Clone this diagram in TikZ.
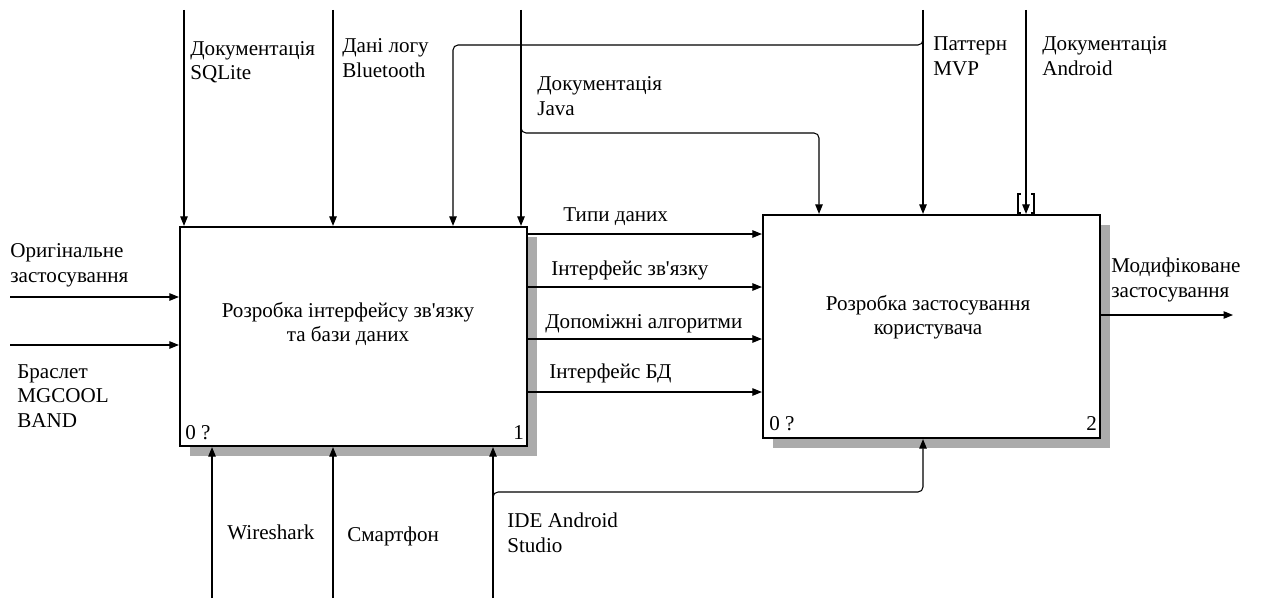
\documentclass[tikz,border=0pt]{standalone}
\usepackage{fontspec}
\setmainfont{Liberation Serif}
\usetikzlibrary{arrows.meta,shadows}

\tikzset{
  actbox/.style={draw,line width=1.3pt,fill=white,
    drop shadow={shadow xshift=0.2cm,shadow yshift=-0.2cm,fill=black!33,opacity=1}},
  flow/.style={line width=0.6pt,rounded corners=0.1cm,
    -{Triangle[length=0.19cm,width=0.15cm]}},
  lbl/.style={anchor=base west,align=left,inner sep=0pt,
    font=\fontsize{12}{13.8}\selectfont},
  title/.style={align=center,inner sep=0pt,font=\fontsize{12}{13.8}\selectfont},
}

\begin{document}
\begin{tikzpicture}[x=0.02cm,y=-0.02cm]
  \useasboundingbox (0,0) rectangle (1263,598);

  % activity boxes
  \node[actbox,minimum width=6.94cm,minimum height=4.38cm] (b1) at (353.5,336.5) {};
  \node[actbox,minimum width=6.74cm,minimum height=4.46cm] (b2) at (931.5,326.5) {};
  \node[title] (b1t) at (348,324) {Розробка інтерфейсу зв\textquotesingle язку\\та бази даних};
  \node[title] (b2t) at (928,317) {Розробка застосування\\користувача};
  \node[lbl] (b1n) at (185,439) {0 ?};
  \node[lbl] (b1i) at (513,439) {1};
  \node[lbl] (b2n) at (769,430) {0 ?};
  \node[lbl] (b2i) at (1086,430) {2};

  % free ends
  \coordinate (sqlite) at (184,10);
  \coordinate (btlog) at (333,10);
  \coordinate (java) at (521,10);
  \coordinate (javafork) at (521,118);
  \coordinate (javabend) at (819,133);
  \coordinate (mvp) at (923,10);
  \coordinate (mvpfork) at (923,30);
  \coordinate (mvpbend) at (453,45);
  \coordinate (android) at (1026,10);
  \coordinate (orig) at (10,297);
  \coordinate (band) at (10,345);
  \coordinate (modif) at (1233,315);
  \coordinate (wshark) at (212,598);
  \coordinate (phone) at (333,598);
  \coordinate (ide) at (493,598);
  \coordinate (idefork) at (493,507);
  \coordinate (idebend) at (923,492);

  % controls
  \draw[flow] (sqlite) -- (sqlite |- b1.north);
  \draw[flow] (btlog) -- (btlog |- b1.north);
  \draw[flow] (java) -- (java |- b1.north);
  \draw[flow] (javafork) |- (javabend) -- (javabend |- b2.north);
  \draw[flow] (mvp) -- (mvp |- b2.north);
  \draw[flow] (mvpfork) |- (mvpbend) -- (mvpbend |- b1.north);
  \draw[flow] (android) -- (android |- b2.north);
  \draw[line width=0.6pt] (1021,194) -- (1018,194) -- (1018,213) -- (1021,213);
  \draw[line width=0.6pt] (1031,194) -- (1034,194) -- (1034,213) -- (1031,213);

  % inputs and outputs
  \draw[flow] (orig) -- (orig -| b1.west);
  \draw[flow] (band) -- (band -| b1.west);
  \foreach \yy in {234,287,339,392}
    \draw[flow] (b1.east |- 0,\yy) -- (b2.west |- 0,\yy);
  \draw[flow] (b2.east |- modif) -- (modif);

  % mechanisms
  \draw[flow] (wshark) -- (wshark |- b1.south);
  \draw[flow] (phone) -- (phone |- b1.south);
  \draw[flow] (ide) -- (ide |- b1.south);
  \draw[flow] (idefork) |- (idebend) -- (idebend |- b2.south);

  % arrow labels (base = last line)
  \node[lbl] (l1) at (190,80) {Документація\\SQLite};
  \node[lbl] (l2) at (342,77) {Дані логу\\Bluetooth};
  \node[lbl] (l3) at (537,115) {Документація\\Java};
  \node[lbl] (l4) at (933,75) {Паттерн\\MVP};
  \node[lbl] (l5) at (1042,75) {Документація\\Android};
  \node[lbl] (l6) at (10,282) {Оригінальне\\застосування};
  \node[lbl] (l7) at (17,427) {Браслет\\MGCOOL\\BAND};
  \node[lbl] (l8) at (563,221) {Типи даних};
  \node[lbl] (l9) at (551,275) {Інтерфейс зв\textquotesingle язку};
  \node[lbl] (l10) at (545,328) {Допоміжні алгоритми};
  \node[lbl] (l11) at (549,378) {Інтерфейс БД};
  \node[lbl] (l12) at (1111,297) {Модифіковане\\застосування};
  \node[lbl] (l13) at (227,539) {Wireshark};
  \node[lbl] (l14) at (347,541) {Смартфон};
  \node[lbl] (l15) at (507,552) {IDE Android\\Studio};
\end{tikzpicture}
\end{document}
